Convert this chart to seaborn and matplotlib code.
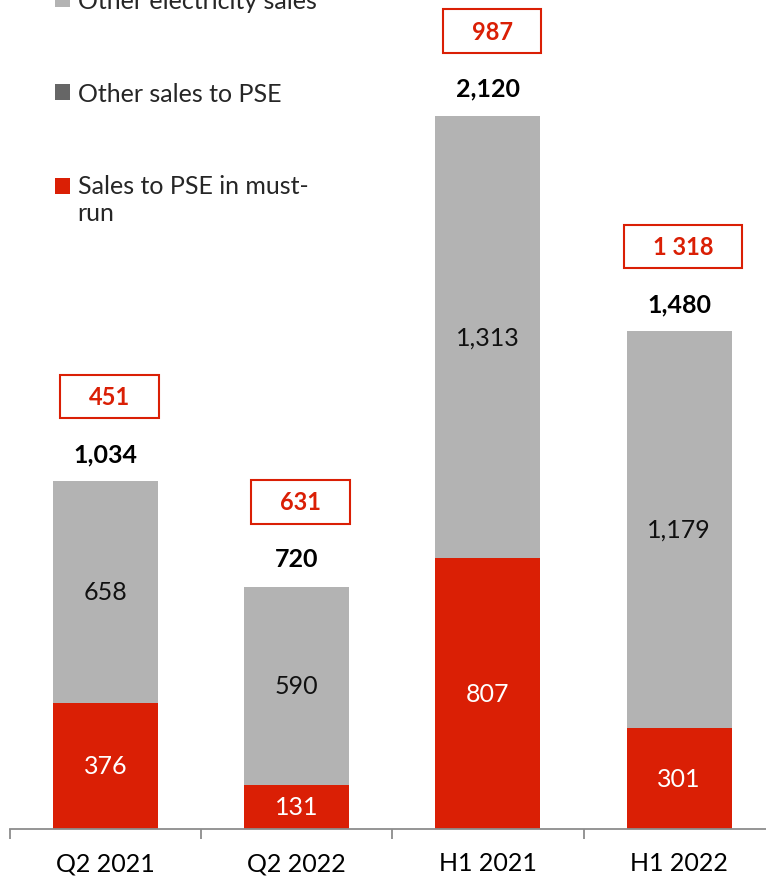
import matplotlib
matplotlib.use("Agg")
import matplotlib.pyplot as plt
from matplotlib.path import Path
from matplotlib.legend_handler import HandlerPatch
from matplotlib.patches import Patch
import numpy as np
import pandas as pd
import seaborn as sns

# Sales volumes by period
periods = ["Q2 2021", "Q2 2022", "H1 2021", "H1 2022"]
must_run = [376, 131, 807, 301]
other_pse = [0, 0, 0, 0]
other_electricity = [658, 590, 1313, 1179]
totals = [1034, 720, 2120, 1480]
boxed_labels = ["451", "631", "987", "1 318"]

series_names = ["Other electricity sales", "Other sales to PSE", "Sales to PSE in must-\nrun"]

RED = "#DA1F05"
GRAY = "#B3B3B3"
DARK = "#666666"
AXIS = "#8C8C8C"

sns.set_theme(style="white")
plt.rcParams["font.family"] = ["Lato", "DejaVu Sans"]
FS = 18

df = pd.DataFrame({
    "period": periods,
    "must_run": must_run,
    "other_pse": other_pse,
    "other_el": other_electricity,
})
df["lvl1"] = df["must_run"]
df["lvl2"] = df["lvl1"] + df["other_pse"]
df["lvl3"] = df["lvl2"] + df["other_el"]

fig = plt.figure(figsize=(7.66, 8.79), dpi=100)
ax = fig.add_axes([9.75 / 766, 49 / 879, 765 / 766, 2500 * 0.33632 / 879])

# layered cumulative bars: the tallest goes at the back
for col, color in [("lvl3", GRAY), ("lvl2", DARK), ("lvl1", RED)]:
    sns.barplot(data=df, x="period", y=col, color=color, saturation=1,
                width=0.55, linewidth=0, ax=ax, order=periods)

ax.set_xlim(-0.5, 3.5)
ax.set_ylim(0, 2500)
ax.set_xlabel("")
ax.set_ylabel("")
ax.set_yticks([])
for s in ["left", "right", "top"]:
    ax.spines[s].set_visible(False)
ax.spines["bottom"].set_color(AXIS)
ax.spines["bottom"].set_linewidth(1.3)

ax.set_xticks(range(len(periods)))
ax.set_xticklabels(periods, fontsize=FS)
ax.tick_params(axis="x", which="major", length=0, pad=16, colors="black")
ax.set_xticks(np.arange(-0.5, len(periods), 1.0), minor=True)
ax.tick_params(axis="x", which="minor", bottom=True, length=7.5, width=1.3,
               color=AXIS, direction="out")

# segment values
for i in range(len(periods)):
    y_red = must_run[i] / 2
    ax.text(i, y_red, f"{must_run[i]:,}", ha="center", va="center",
            fontsize=FS, color="white")
    lo = must_run[i] + other_pse[i]
    y_gray = lo + other_electricity[i] / 2
    ax.text(i, y_gray, f"{other_electricity[i]:,}", ha="center", va="center",
            fontsize=FS, color="#111111")


def fixed_box(x0, y0, width, height, mutation_size):
    cx = x0 + width / 2
    cy = y0 + height / 2
    hw = width / 2 + 1.22 * mutation_size
    hh = 0.93 * mutation_size
    return Path([(cx - hw, cy - hh), (cx + hw, cy - hh), (cx + hw, cy + hh),
                 (cx - hw, cy + hh), (cx - hw, cy - hh)], closed=True)


# totals and boxed PSE figures above each bar
for i in range(len(periods)):
    top = df["lvl3"][i]
    ax.annotate(f"{totals[i]:,}", xy=(i, top), xytext=(0, 20),
                textcoords="offset points", ha="center", va="center",
                fontsize=FS, fontweight="bold", color="black")
    ax.annotate(boxed_labels[i], xy=(i, top), xytext=(3, 61),
                textcoords="offset points", ha="center", va="center",
                fontsize=FS - 1, fontweight="bold", color=RED,
                bbox=dict(boxstyle=fixed_box, facecolor="white",
                          edgecolor=RED, linewidth=1.5))


class FirstLineHandler(HandlerPatch):
    """Puts the swatch beside the first line of a wrapped label."""
    def create_artists(self, legend, orig_handle, xdescent, ydescent,
                       width, height, fontsize, trans):
        arts = super().create_artists(legend, orig_handle, xdescent, ydescent,
                                      width, height, fontsize, trans)
        nlines = orig_handle.get_label().count("\n")
        for a in arts:
            a.set_y(a.get_y() + 0.55 * fontsize * nlines)
        return arts


handles = [Patch(facecolor=c, edgecolor="none", label=n)
           for c, n in zip([GRAY, DARK, RED], series_names)]
leg = fig.legend(handles=handles, loc="upper left",
                 bbox_to_anchor=(55 / 766, 1.011), bbox_transform=fig.transFigure,
                 frameon=False, fontsize=FS, handlelength=0.6, handleheight=0.6,
                 handletextpad=0.3, labelspacing=2.77, borderpad=0, borderaxespad=0,
                 handler_map={Patch: FirstLineHandler()})

fig.savefig("out.png", dpi=100)
